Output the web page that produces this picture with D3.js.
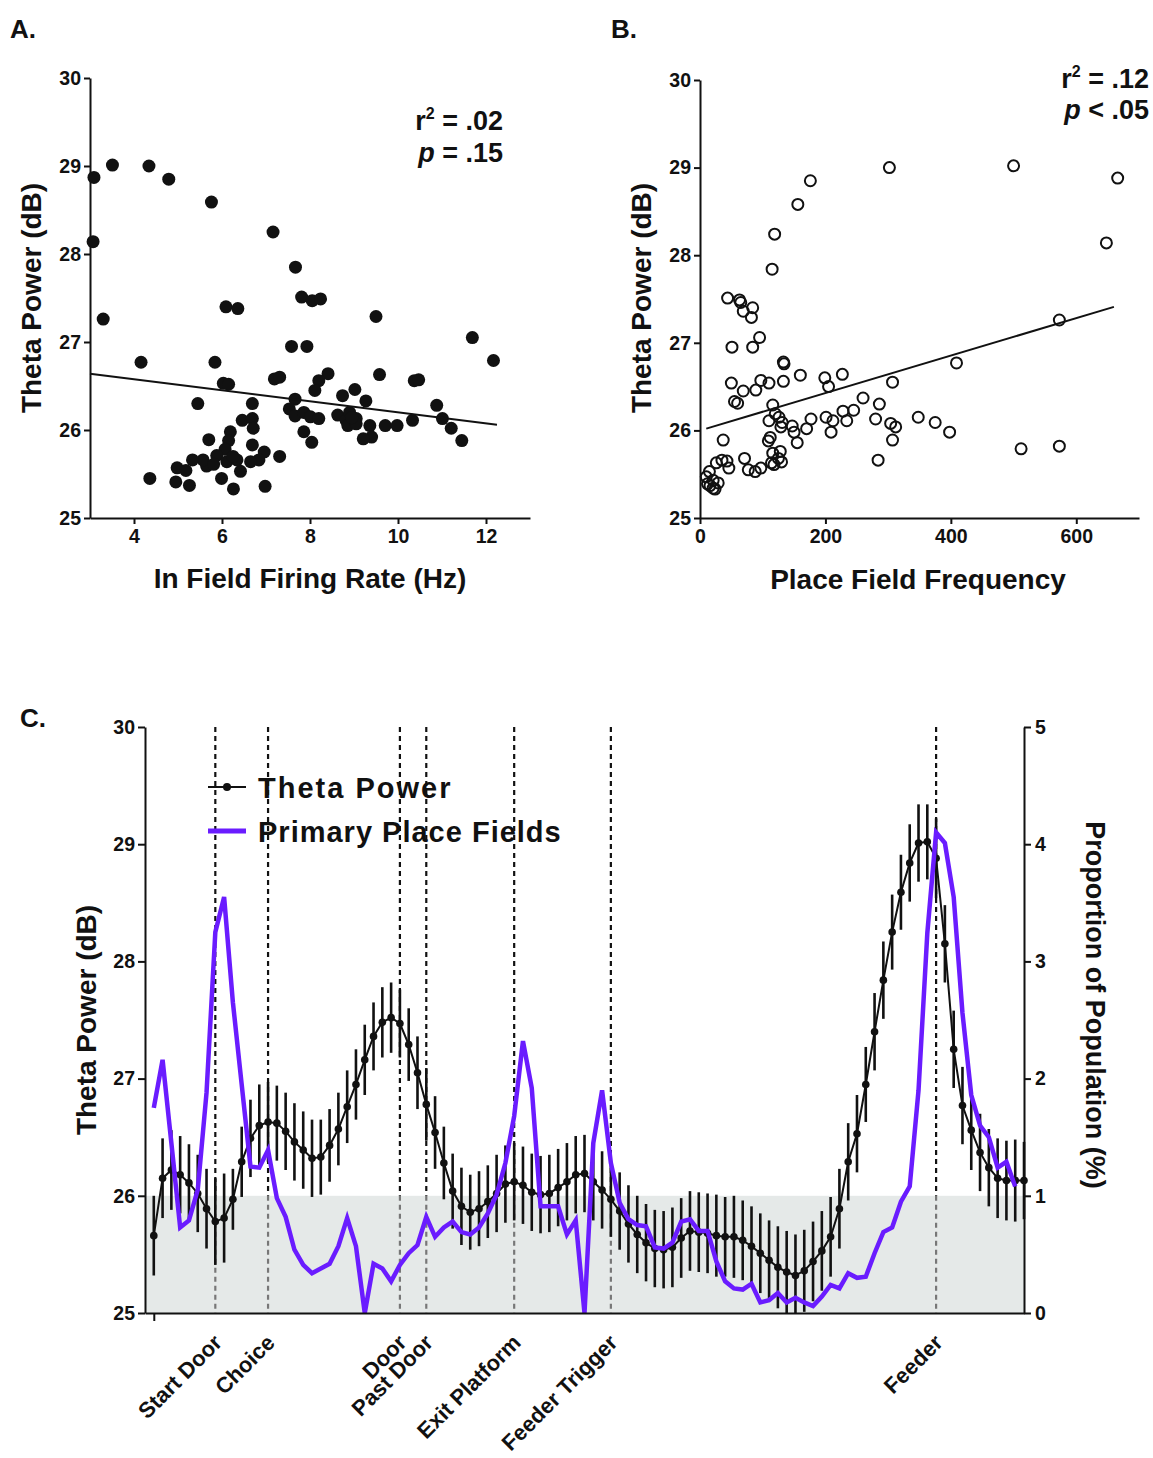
<!DOCTYPE html>
<html>
<head>
<meta charset="utf-8">
<script src="https://cdn.jsdelivr.net/npm/d3@7"></script>
<style>
  body { margin: 0; background: #fff; }
  svg text { font-family: 'Liberation Sans', Arial, Helvetica, sans-serif; font-weight: bold; fill: #111; }
</style>
</head>
<body>
<svg id="fig" width="1153" height="1458"></svg>
<script>
// ---------- Panel A: theta power vs in-field firing rate ----------
const rateHz = [3.09,3.51,3.07,3.30,4.34,4.79,5.76,7.16,7.67,7.81,8.05,8.24,6.09,6.36,9.50,11.69,12.17,7.58,7.93,4.16,
  5.84,7.19,7.31,8.41,9.58,10.37,10.47,8.20,6.03,6.15,9.02,8.11,10.88,9.27,5.45,6.69,7.66,8.74,7.53,7.66,
  7.86,8.01,8.20,8.63,8.82,9.05,8.86,9.05,9.36,9.71,9.98,10.33,11.01,11.21,11.45,9.40,9.21,7.86,8.04,6.46,
  6.69,6.71,6.19,6.15,6.07,5.70,6.69,6.96,6.84,6.65,7.31,5.88,5.65,5.57,5.33,4.98,5.18,6.11,6.34,6.42,
  5.99,4.36,4.95,5.26,6.26,6.98,5.81,8.90,8.95,6.25];
const rateTheta = [28.87,29.01,28.14,27.26,29.00,28.85,28.59,28.25,27.85,27.51,27.47,27.49,27.40,27.38,27.29,27.05,26.79,26.95,26.95,26.77,
  26.77,26.58,26.60,26.64,26.63,26.56,26.57,26.56,26.53,26.52,26.46,26.45,26.28,26.33,26.30,26.30,26.35,26.39,26.24,26.16,
  26.20,26.15,26.13,26.17,26.11,26.13,26.05,26.07,26.05,26.05,26.05,26.11,26.13,26.02,25.88,25.92,25.90,25.98,25.86,26.11,
  26.13,26.02,25.98,25.88,25.78,25.89,25.83,25.75,25.66,25.64,25.70,25.71,25.59,25.66,25.66,25.57,25.54,25.64,25.66,25.53,
  25.45,25.45,25.41,25.37,25.33,25.36,25.61,26.20,26.14,25.70];
const fitA = [[3, 26.64], [12.25, 26.06]];

// ---------- Panel B: theta power vs place field frequency ----------
const fieldFreq = [302,500,666,176,156,119,648,115,44,63,65,84,69,82,573,95,51,84,133,134,
  409,160,227,199,307,50,97,110,133,205,89,69,260,55,60,116,286,228,245,348,
  375,201,212,234,177,170,147,150,155,110,126,131,129,120,280,304,312,307,398,209,
  512,573,284,37,109,112,116,128,125,114,118,130,71,35,43,26,46,77,88,97,
  15,10,21,12,29,21,24,16];
const freqTheta = [29.00,29.02,28.88,28.85,28.58,28.24,28.14,27.84,27.51,27.49,27.46,27.40,27.36,27.29,27.26,27.06,26.95,26.95,26.78,26.76,
  26.77,26.63,26.64,26.60,26.55,26.54,26.57,26.54,26.56,26.50,26.46,26.45,26.37,26.33,26.31,26.29,26.30,26.22,26.23,26.15,
  26.09,26.15,26.11,26.11,26.13,26.02,26.05,25.98,25.86,26.11,26.15,26.09,26.04,26.19,26.13,26.08,26.04,25.89,25.98,25.98,
  25.79,25.82,25.66,25.89,25.88,25.92,25.74,25.76,25.68,25.63,25.61,25.64,25.68,25.66,25.65,25.63,25.57,25.55,25.53,25.57,
  25.53,25.47,25.43,25.39,25.40,25.34,25.33,25.37];
const fitB = [[10, 26.02], [660, 27.41]];

// ---------- Panel C: theta power and place fields along the track ----------
const trackBin = d3.range(1, 101);
const thetaPower = [25.66,26.15,26.22,26.18,26.11,26.02,25.89,25.78,25.81,25.97,
  26.29,26.49,26.60,26.63,26.62,26.55,26.46,26.39,26.32,26.33,
  26.43,26.57,26.76,26.95,27.16,27.36,27.48,27.52,27.47,27.29,
  27.05,26.78,26.54,26.28,26.04,25.91,25.86,25.89,25.95,26.02,
  26.10,26.12,26.09,26.03,26.01,26.02,26.07,26.12,26.18,26.19,
  26.12,26.05,25.97,25.87,25.76,25.67,25.60,25.55,25.54,25.56,
  25.64,25.70,25.69,25.68,25.66,25.65,25.65,25.62,25.57,25.51,
  25.45,25.39,25.35,25.32,25.36,25.44,25.53,25.65,25.89,26.29,
  26.53,26.95,27.40,27.84,28.25,28.59,28.84,29.01,29.02,28.88,
  28.15,27.25,26.77,26.56,26.37,26.24,26.15,26.13,26.13,26.13];
const thetaSem = [0.34,0.34,0.34,0.33,0.33,0.33,0.34,0.37,0.38,0.26,
  0.30,0.33,0.35,0.34,0.32,0.33,0.33,0.33,0.33,0.32,
  0.31,0.31,0.31,0.30,0.30,0.29,0.30,0.30,0.29,0.31,
  0.31,0.31,0.31,0.31,0.32,0.33,0.32,0.32,0.31,0.33,
  0.33,0.33,0.33,0.33,0.33,0.33,0.33,0.33,0.33,0.33,
  0.33,0.33,0.32,0.33,0.33,0.33,0.33,0.33,0.33,0.34,
  0.34,0.34,0.34,0.34,0.35,0.34,0.35,0.34,0.34,0.34,
  0.34,0.35,0.35,0.35,0.35,0.34,0.34,0.34,0.34,0.33,
  0.33,0.32,0.33,0.33,0.32,0.32,0.33,0.33,0.32,0.34,
  0.33,0.33,0.33,0.34,0.33,0.33,0.34,0.34,0.35,0.33];
const placeFieldPct = [1.75,2.16,1.45,0.73,0.79,1.05,1.88,3.25,3.55,2.65,
  1.95,1.25,1.24,1.39,0.98,0.82,0.54,0.41,0.34,0.38,
  0.42,0.57,0.81,0.57,0.00,0.42,0.38,0.27,0.41,0.51,
  0.58,0.82,0.65,0.73,0.78,0.69,0.67,0.73,0.85,1.01,
  1.28,1.68,2.32,1.92,0.91,0.91,0.91,0.67,0.79,0.00,
  1.45,1.90,1.28,0.94,0.80,0.75,0.74,0.56,0.55,0.60,
  0.78,0.80,0.70,0.70,0.44,0.27,0.21,0.20,0.25,0.09,
  0.11,0.17,0.09,0.13,0.09,0.06,0.14,0.24,0.21,0.34,
  0.30,0.31,0.51,0.69,0.73,0.95,1.08,1.90,3.24,4.10,
  4.01,3.55,2.56,1.86,1.60,1.50,1.24,1.29,1.08];
const landmarkBin = [8, 14, 29, 32, 42, 53, 90];
const landmarkName = ["Start Door", "Choice", "Door", "Past Door", "Exit Platform", "Feeder Trigger", "Feeder"];
const legendNames = ["Theta Power", "Primary Place Fields"];

const svg = d3.select("#fig");
svg.append("rect").attr("width", 1153).attr("height", 1458).attr("fill", "#fff");

const PURPLE = "#6a1cff";
const intFmt = d3.format("d");

function styleAxis(g, fs) {
  g.select(".domain").attr("stroke", "#111").attr("stroke-width", 2);
  g.selectAll(".tick line").attr("stroke", "#111").attr("stroke-width", 2);
  g.selectAll(".tick text").style("font-size", fs + "px").style("font-weight", "bold").attr("fill", "#111");
}

function statText(x, y1, y2, rVal, pText) {
  const t = svg.append("text").attr("x", x).attr("y", y1).attr("text-anchor", "end").style("font-size", "27px");
  t.append("tspan").text("r");
  t.append("tspan").attr("dy", -11).style("font-size", "16px").text("2");
  t.append("tspan").attr("dy", 11).text(" = " + rVal);
  const p = svg.append("text").attr("x", x).attr("y", y2).attr("text-anchor", "end").style("font-size", "27px");
  p.append("tspan").style("font-style", "italic").text("p");
  p.append("tspan").text(pText);
}

// ----- Panel A -----
const xA = d3.scaleLinear().domain([3, 13]).range([90, 530]);
const yA = d3.scaleLinear().domain([25, 30]).range([518, 78]);
const gA = svg.append("g");
gA.append("g").attr("transform", "translate(0,518)")
  .call(d3.axisBottom(xA).tickValues([4, 6, 8, 10, 12]).tickFormat(intFmt).tickSize(6).tickSizeOuter(0).tickPadding(5))
  .call(g => styleAxis(g, 19.5));
gA.append("g").attr("transform", "translate(90,0)")
  .call(d3.axisLeft(yA).tickValues([25, 26, 27, 28, 29, 30]).tickFormat(intFmt).tickSize(6).tickSizeOuter(0).tickPadding(3))
  .call(g => styleAxis(g, 19.5));
gA.selectAll("circle.pt").data(rateHz).join("circle").attr("class", "pt")
  .attr("cx", d => xA(d)).attr("cy", (d, i) => yA(rateTheta[i])).attr("r", 6.5).attr("fill", "#111");
gA.append("path").datum(fitA)
  .attr("d", d3.line().x(d => xA(d[0])).y(d => yA(d[1])))
  .attr("stroke", "#111").attr("stroke-width", 2).attr("fill", "none");
svg.append("text").attr("x", 310).attr("y", 588).attr("text-anchor", "middle").style("font-size", "28px").text("In Field Firing Rate (Hz)");
svg.append("text").attr("transform", "translate(41,298) rotate(-90)").attr("text-anchor", "middle").style("font-size", "28px").text("Theta Power (dB)");
statText(503, 130, 162, ".02", " = .15");
svg.append("text").attr("x", 10).attr("y", 38).style("font-size", "26px").text("A.");

// ----- Panel B -----
const xB = d3.scaleLinear().domain([0, 700]).range([700, 1139]);
const yB = d3.scaleLinear().domain([25, 30]).range([518, 80]);
const gB = svg.append("g");
gB.append("g").attr("transform", "translate(0,518)")
  .call(d3.axisBottom(xB).tickValues([0, 200, 400, 600]).tickFormat(intFmt).tickSize(6).tickSizeOuter(0).tickPadding(5))
  .call(g => styleAxis(g, 19.5));
gB.append("g").attr("transform", "translate(700,0)")
  .call(d3.axisLeft(yB).tickValues([25, 26, 27, 28, 29, 30]).tickFormat(intFmt).tickSize(6).tickSizeOuter(0).tickPadding(3))
  .call(g => styleAxis(g, 19.5));
gB.selectAll("circle.pt").data(fieldFreq).join("circle").attr("class", "pt")
  .attr("cx", d => xB(d)).attr("cy", (d, i) => yB(freqTheta[i])).attr("r", 5.5)
  .attr("fill", "none").attr("stroke", "#111").attr("stroke-width", 2);
gB.append("path").datum(fitB)
  .attr("d", d3.line().x(d => xB(d[0])).y(d => yB(d[1])))
  .attr("stroke", "#111").attr("stroke-width", 2).attr("fill", "none");
svg.append("text").attr("x", 918).attr("y", 589).attr("text-anchor", "middle").style("font-size", "28px").text("Place Field Frequency");
svg.append("text").attr("transform", "translate(651,298) rotate(-90)").attr("text-anchor", "middle").style("font-size", "28px").text("Theta Power (dB)");
statText(1149, 88, 119, ".12", " < .05");
svg.append("text").attr("x", 611).attr("y", 38).style("font-size", "26px").text("B.");

// ----- Panel C -----
const xC = d3.scaleLinear().domain([0, 100]).range([145, 1024]);
const yC = d3.scaleLinear().domain([25, 30]).range([1313, 727]);
const yR = d3.scaleLinear().domain([0, 5]).range([1313, 727]);
const gC = svg.append("g");

// shaded band below 1% of the population
gC.append("rect").attr("x", xC(0)).attr("y", yR(1)).attr("width", xC(100) - xC(0)).attr("height", yR(0) - yR(1))
  .attr("fill", "#e5e9e8");

// landmark guides: dark above the band, grey inside it
gC.selectAll("line.lmTop").data(landmarkBin).join("line").attr("class", "lmTop")
  .attr("x1", d => xC(d)).attr("x2", d => xC(d)).attr("y1", yC(30)).attr("y2", yR(1))
  .attr("stroke", "#111").attr("stroke-width", 2.2).attr("stroke-dasharray", "5,4");
gC.selectAll("line.lmBot").data(landmarkBin).join("line").attr("class", "lmBot")
  .attr("x1", d => xC(d)).attr("x2", d => xC(d)).attr("y1", yR(1)).attr("y2", yR(0))
  .attr("stroke", "#777").attr("stroke-width", 2.2).attr("stroke-dasharray", "5,4");

// theta power: error bars, line, points
gC.selectAll("line.err").data(trackBin).join("line").attr("class", "err")
  .attr("x1", d => xC(d)).attr("x2", d => xC(d))
  .attr("y1", (d, i) => yC(thetaPower[i] + thetaSem[i])).attr("y2", (d, i) => Math.min(yC(25), yC(thetaPower[i] - thetaSem[i])))
  .attr("stroke", "#111").attr("stroke-width", 2.6);
gC.append("path").datum(trackBin)
  .attr("d", d3.line().x(d => xC(d)).y((d, i) => yC(thetaPower[i])))
  .attr("stroke", "#111").attr("stroke-width", 2).attr("fill", "none");
gC.selectAll("circle.tp").data(trackBin).join("circle").attr("class", "tp")
  .attr("cx", d => xC(d)).attr("cy", (d, i) => yC(thetaPower[i])).attr("r", 3.8).attr("fill", "#111");

// primary place fields
gC.append("path").datum(placeFieldPct)
  .attr("d", d3.line().x((d, i) => xC(i + 1)).y(d => yR(d)))
  .attr("stroke", PURPLE).attr("stroke-width", 4.5).attr("fill", "none").attr("stroke-linejoin", "miter");

// axes
gC.append("g").attr("transform", "translate(145,0)")
  .call(d3.axisLeft(yC).tickValues([25, 26, 27, 28, 29, 30]).tickFormat(intFmt).tickSize(7).tickSizeOuter(0).tickPadding(3))
  .call(g => styleAxis(g, 19.5));
gC.append("g").attr("transform", "translate(1024,0)")
  .call(d3.axisRight(yR).tickValues([0, 1, 2, 3, 4, 5]).tickFormat(intFmt).tickSize(7).tickSizeOuter(0).tickPadding(4))
  .call(g => styleAxis(g, 19.5));
gC.append("g").attr("transform", "translate(0,1313)")
  .call(d3.axisBottom(xC).tickValues([1]).tickSize(8).tickSizeOuter(0).tickFormat(""))
  .call(g => styleAxis(g, 19.5));

// landmark labels
gC.selectAll("text.lm").data(landmarkBin).join("text").attr("class", "lm")
  .attr("transform", d => `translate(${xC(d) + 8},1344) rotate(-45)`)
  .attr("text-anchor", "end").style("font-size", "22px")
  .text((d, i) => landmarkName[i]);

// legend
const lg = gC.append("g");
lg.append("line").attr("x1", 208).attr("x2", 246).attr("y1", 787).attr("y2", 787).attr("stroke", "#111").attr("stroke-width", 2);
lg.append("circle").attr("cx", 227).attr("cy", 787).attr("r", 4).attr("fill", "#111");
lg.append("line").attr("x1", 208).attr("x2", 246).attr("y1", 831).attr("y2", 831).attr("stroke", PURPLE).attr("stroke-width", 5);
lg.selectAll("text.lg").data(legendNames).join("text").attr("class", "lg")
  .attr("x", 258).attr("y", (d, i) => 798 + i * 44).style("font-size", "29px")
  .style("letter-spacing", (d, i) => i === 0 ? "2px" : "1px")
  .text(d => d);

svg.append("text").attr("transform", "translate(96,1020) rotate(-90)").attr("text-anchor", "middle").style("font-size", "28px").text("Theta Power (dB)");
svg.append("text").attr("transform", "translate(1086,1005) rotate(90)").attr("text-anchor", "middle").style("font-size", "27px").text("Proportion of Population (%)");
svg.append("text").attr("x", 20).attr("y", 727).style("font-size", "26px").text("C.");
</script>
</body>
</html>
